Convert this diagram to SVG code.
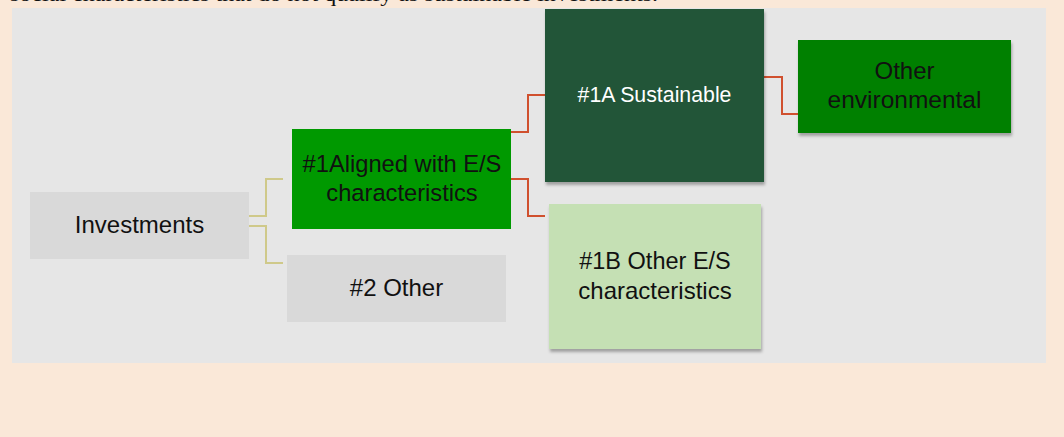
<svg xmlns="http://www.w3.org/2000/svg" width="1064" height="437" viewBox="0 0 1064 437">
  <defs>
    <filter id="shadow" x="-10%" y="-10%" width="125%" height="125%">
      <feDropShadow dx="1" dy="3" stdDeviation="1.5" flood-color="#000" flood-opacity="0.3"/>
    </filter>
    <style>
      .t { font-family: "Liberation Sans", Arial, sans-serif; text-anchor: middle; fill: #111; }
      .w { fill: #ffffff; }
      .yl { fill: none; stroke: #CFC98A; stroke-width: 2; }
      .rd { fill: none; stroke: #D0502E; stroke-width: 2; }
      .grey { fill: #D9D9D9; }
    </style>
  </defs>
  <rect x="0" y="0" width="1064" height="437" fill="#FAE8D8"/>
  <text x="10" y="1" font-family="'Liberation Serif', 'Times New Roman', serif" font-size="21" fill="#111" textLength="648" lengthAdjust="spacingAndGlyphs">social characteristics that do not qualify as sustainable investments.</text>
  <rect x="12" y="8" width="1034" height="355" fill="#E6E6E6"/>

  <g id="connectors">
    <polyline class="yl" points="249,216 266,216 266,179 283,179"/>
    <polyline class="yl" points="249,226 266,226 266,263 283,263"/>
    <polyline class="rd" points="511,132 528,132 528,95 545,95"/>
    <polyline class="rd" points="511,179 528,179 528,216 545,216"/>
    <polyline class="rd" points="764,77 782,77 782,114 798,114"/>
  </g>

  <g id="investments">
    <rect class="grey" x="30" y="192" width="219" height="67"/>
    <text class="t" x="139.5" y="233" font-size="24">Investments</text>
  </g>

  <g id="aligned">
    <rect x="292" y="129" width="219" height="100" fill="#009900"/>
    <text class="t" x="402" y="172" font-size="23.7">#1Aligned with E/S</text>
    <text class="t" x="402" y="201" font-size="23.7">characteristics</text>
  </g>

  <g id="other2">
    <rect class="grey" x="287" y="255" width="219" height="67"/>
    <text class="t" x="396.5" y="296" font-size="24">#2 Other</text>
  </g>

  <g id="sustainable">
    <rect x="545" y="9" width="219" height="173" fill="#245539" filter="url(#shadow)"/>
    <text class="t w" x="654.5" y="101.5" font-size="21.3">#1A Sustainable</text>
  </g>

  <g id="otherenv">
    <rect x="798" y="40" width="213" height="93" fill="#008000" filter="url(#shadow)"/>
    <text class="t" x="904.5" y="79" font-size="24">Other</text>
    <text class="t" x="904.5" y="108" font-size="24.5">environmental</text>
  </g>

  <g id="otheres">
    <rect x="549" y="204" width="212" height="145" fill="#C5E0B4" filter="url(#shadow)"/>
    <text class="t" x="655" y="268.5" font-size="23.5">#1B Other E/S</text>
    <text class="t" x="655" y="298.5" font-size="24">characteristics</text>
  </g>
</svg>
